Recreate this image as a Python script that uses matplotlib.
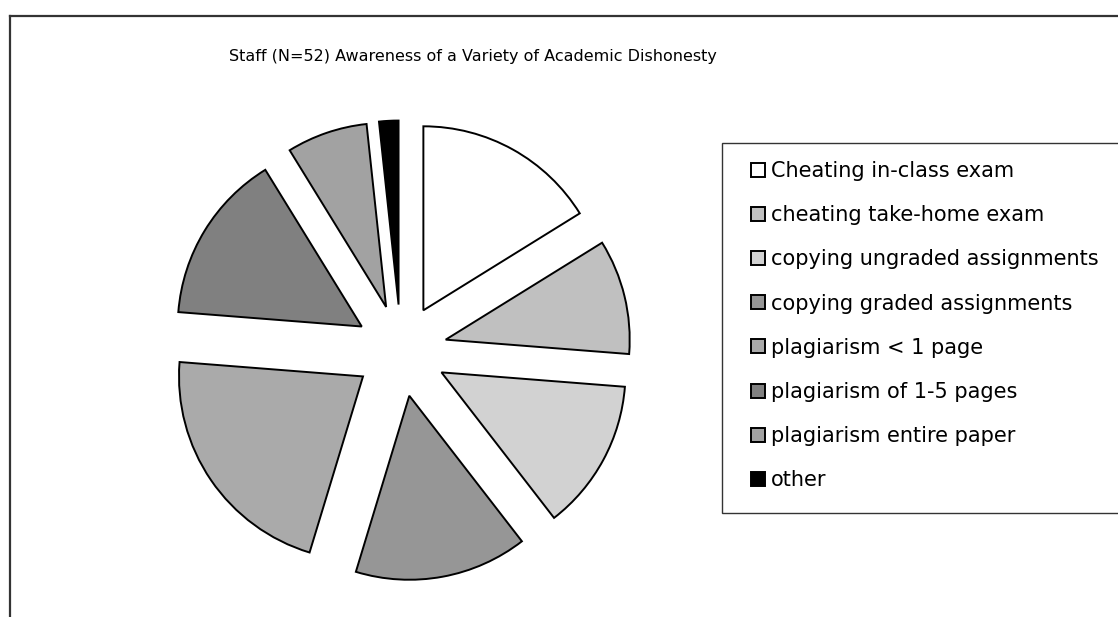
import matplotlib
matplotlib.use("Agg")
import matplotlib.pyplot as plt
from matplotlib.lines import Line2D
from matplotlib.patches import Rectangle

# data (share of staff, %)
labels = ["Cheating in-class exam", "cheating take-home exam",
          "copying ungraded assignments", "copying graded assignments",
          "plagiarism < 1 page", "plagiarism of 1-5 pages",
          "plagiarism entire paper", "other"]
values = [16.2, 10.1, 13.3, 15.2, 21.6, 15.0, 7.1, 1.7]
colors = ["#ffffff", "#c0c0c0", "#d2d2d2", "#969696",
          "#aaaaaa", "#808080", "#a2a2a2", "#000000"]

W, H = 1118, 617
fig = plt.figure(figsize=(W / 100, H / 100), dpi=100)

# pie centre and radius in pixels
cx, cy, R = 401, H - 350.5, 184
ax = fig.add_axes([0, 0, 1, 1])
wedges, _ = ax.pie(values, colors=colors, startangle=90, counterclock=False,
                   explode=[0.25] * len(values),
                   wedgeprops=dict(edgecolor="black", linewidth=1.4))
ax.set_aspect("auto")
ax.set_xlim(-cx / R, (W - cx) / R)
ax.set_ylim(-cy / R, (H - cy) / R)
ax.axis("off")

# outer chart frame (cut off at right and bottom)
fig.add_artist(Line2D([10 / W, 10 / W], [0, 1 - 16 / H], transform=fig.transFigure,
                      color="#333333", linewidth=1.6))
fig.add_artist(Line2D([10 / W, 1], [1 - 16 / H, 1 - 16 / H], transform=fig.transFigure,
                      color="#333333", linewidth=1.6))

fig.text(473 / W, 1 - 57 / H, "Staff (N=52) Awareness of a Variety of Academic Dishonesty",
         ha="center", va="center", fontsize=11.5, color="black")

# legend box
fig.add_artist(Rectangle((722 / W, 1 - 513 / H), 420 / W, 370 / H,
                         transform=fig.transFigure, facecolor="white",
                         edgecolor="#333333", linewidth=1.0, zorder=2))
leg = fig.legend(wedges, labels, loc="upper left",
                 bbox_to_anchor=(751 / W, 1 - 161 / H),
                 fontsize=15.0, frameon=False, borderpad=0, labelspacing=1.16,
                 handlelength=0.66, handleheight=0.66, handletextpad=0.3,
                 borderaxespad=0)
leg.set_zorder(3)

fig.savefig("out.png", dpi=100, facecolor="white")
